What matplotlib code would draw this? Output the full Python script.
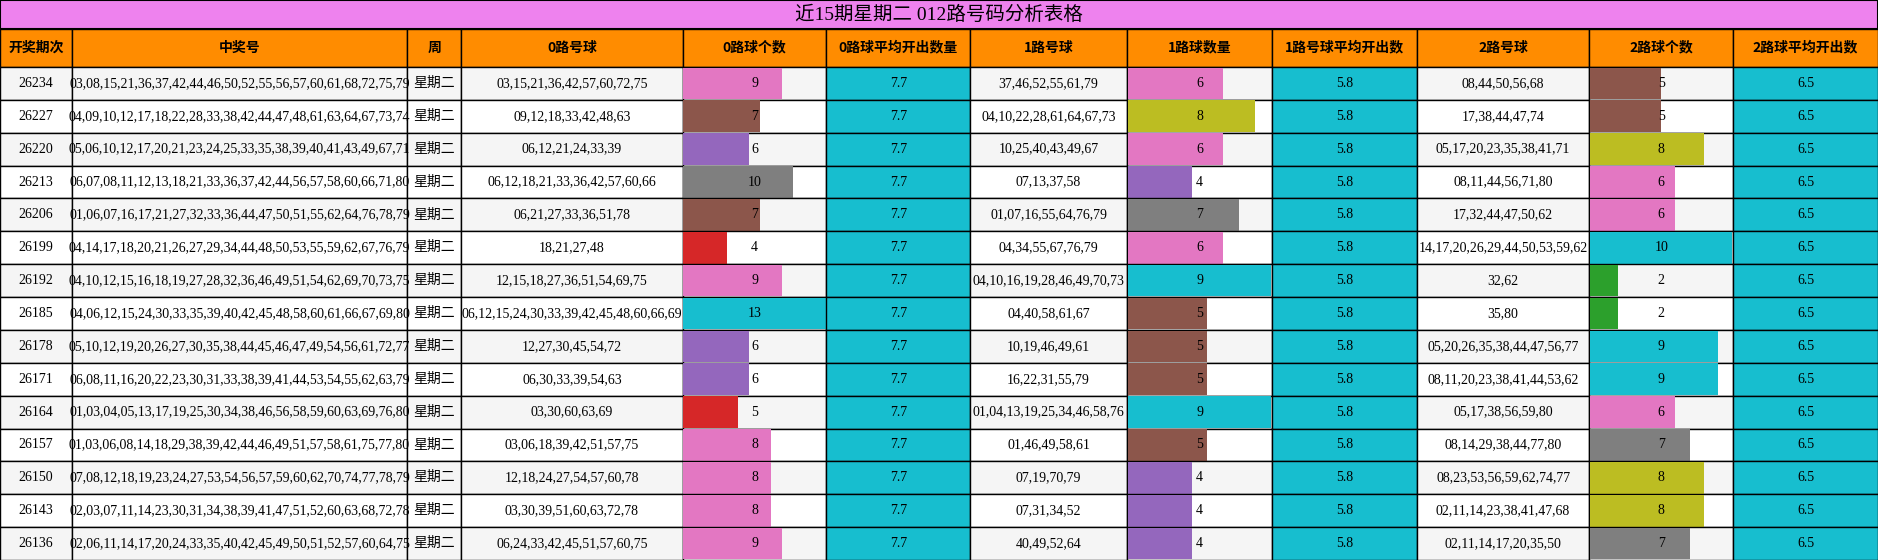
import matplotlib
matplotlib.use("Agg")
import matplotlib.pyplot as plt
from matplotlib.patches import Rectangle

title = "近15期星期二 012路号码分析表格"
headers = ["开奖期次","中奖号","周","0路号球","0路球个数","0路球平均开出数量","1路号球","1路球数量","1路号球平均开出数","2路号球","2路球个数","2路球平均开出数"]
periods = ["26234","26227","26220","26213","26206","26199","26192","26185","26178","26171","26164","26157","26150","26143","26136"]
winning = ["03,08,15,21,36,37,42,44,46,50,52,55,56,57,60,61,68,72,75,79",
"04,09,10,12,17,18,22,28,33,38,42,44,47,48,61,63,64,67,73,74",
"05,06,10,12,17,20,21,23,24,25,33,35,38,39,40,41,43,49,67,71",
"06,07,08,11,12,13,18,21,33,36,37,42,44,56,57,58,60,66,71,80",
"01,06,07,16,17,21,27,32,33,36,44,47,50,51,55,62,64,76,78,79",
"04,14,17,18,20,21,26,27,29,34,44,48,50,53,55,59,62,67,76,79",
"04,10,12,15,16,18,19,27,28,32,36,46,49,51,54,62,69,70,73,75",
"04,06,12,15,24,30,33,35,39,40,42,45,48,58,60,61,66,67,69,80",
"05,10,12,19,20,26,27,30,35,38,44,45,46,47,49,54,56,61,72,77",
"06,08,11,16,20,22,23,30,31,33,38,39,41,44,53,54,55,62,63,79",
"01,03,04,05,13,17,19,25,30,34,38,46,56,58,59,60,63,69,76,80",
"01,03,06,08,14,18,29,38,39,42,44,46,49,51,57,58,61,75,77,80",
"07,08,12,18,19,23,24,27,53,54,56,57,59,60,62,70,74,77,78,79",
"02,03,07,11,14,23,30,31,34,38,39,41,47,51,52,60,63,68,72,78",
"02,06,11,14,17,20,24,33,35,40,42,45,49,50,51,52,57,60,64,75"]
weekday = "星期二"
r0 = ["03,15,21,36,42,57,60,72,75","09,12,18,33,42,48,63","06,12,21,24,33,39","06,12,18,21,33,36,42,57,60,66",
"06,21,27,33,36,51,78","18,21,27,48","12,15,18,27,36,51,54,69,75","06,12,15,24,30,33,39,42,45,48,60,66,69",
"12,27,30,45,54,72","06,30,33,39,54,63","03,30,60,63,69","03,06,18,39,42,51,57,75","12,18,24,27,54,57,60,78",
"03,30,39,51,60,63,72,78","06,24,33,42,45,51,57,60,75"]
c0 = [9,7,6,10,7,4,9,13,6,6,5,8,8,8,9]
avg0 = "7.7"
r1 = ["37,46,52,55,61,79","04,10,22,28,61,64,67,73","10,25,40,43,49,67","07,13,37,58","01,07,16,55,64,76,79",
"04,34,55,67,76,79","04,10,16,19,28,46,49,70,73","04,40,58,61,67","10,19,46,49,61","16,22,31,55,79",
"01,04,13,19,25,34,46,58,76","01,46,49,58,61","07,19,70,79","07,31,34,52","40,49,52,64"]
c1 = [6,8,6,4,7,6,9,5,5,5,9,5,4,4,4]
avg1 = "5.8"
r2 = ["08,44,50,56,68","17,38,44,47,74","05,17,20,23,35,38,41,71","08,11,44,56,71,80","17,32,44,47,50,62",
"14,17,20,26,29,44,50,53,59,62","32,62","35,80","05,20,26,35,38,44,47,56,77","08,11,20,23,38,41,44,53,62",
"05,17,38,56,59,80","08,14,29,38,44,77,80","08,23,53,56,59,62,74,77","02,11,14,23,38,41,47,68","02,11,14,17,20,35,50"]
c2 = [5,5,8,6,6,10,2,2,9,9,6,7,8,8,7]
avg2 = "6.5"

pink, brown, purple, gray, red, cyan, olive, green = "#e377c2","#8c564b","#9467bd","#7f7f7f","#d62728","#17becf","#bcbd22","#2ca02c"
col0 = [pink,brown,purple,gray,brown,red,pink,cyan,purple,purple,red,pink,pink,pink,pink]
col1 = [pink,olive,pink,purple,gray,pink,cyan,brown,brown,brown,cyan,brown,purple,purple,purple]
col2 = [brown,brown,olive,pink,pink,cyan,green,green,cyan,cyan,pink,gray,olive,olive,gray]

xs = [0,60,340,385,570,690,810,941,1062,1183,1327,1447,1568]
W, H = 1568, 468
ty, hy0, hy1 = 0, 24, 56
n = len(periods)
rh = (H - hy1) / n

fig = plt.figure(figsize=(18.78, 5.6), dpi=100)
ax = fig.add_axes([0,0,1,1])
ax.set_xlim(0, W); ax.set_ylim(H, 0); ax.axis("off")
cjk = ["Noto Sans CJK SC", "DejaVu Sans"]
serif = ["Liberation Serif", "Noto Sans CJK SC"]

ax.add_patch(Rectangle((0,0), W, hy0, facecolor="#ee82ee", edgecolor="black", lw=1.5))
ax.text(W/2, hy0/2, title, ha="center", va="center", fontsize=14, family=serif)
for i,h in enumerate(headers):
    ax.add_patch(Rectangle((xs[i],hy0), xs[i+1]-xs[i], hy1-hy0, facecolor="#ff8c00", edgecolor="black", lw=1))
    ax.text((xs[i]+xs[i+1])/2, (hy0+hy1)/2, h, ha="center", va="center", fontsize=10, fontweight="bold", family=cjk)

for r in range(n):
    y = hy1 + r*rh
    bg = "#f5f5f5" if r % 2 == 0 else "white"
    vals = [periods[r], winning[r], weekday, r0[r], str(c0[r]), avg0, r1[r], str(c1[r]), avg1, r2[r], str(c2[r]), avg2]
    for i,v in enumerate(vals):
        x0, x1 = xs[i], xs[i+1]
        face = cyan if i in (5,8,11) else bg
        ax.add_patch(Rectangle((x0,y), x1-x0, rh, facecolor=face, edgecolor="black", lw=1))
        bar = {4:(c0,col0),7:(c1,col1),10:(c2,col2)}.get(i)
        if bar:
            cnts, cols = bar
            ax.add_patch(Rectangle((x0+0.5,y+0.5), (x1-x0-1)*cnts[r]/max(cnts), rh-1, facecolor=cols[r], edgecolor="none"))
        ax.text((x0+x1)/2, y+rh/2, v, ha="center", va="center", fontsize=10, family=serif)

fig.savefig("out.png", dpi=100)
